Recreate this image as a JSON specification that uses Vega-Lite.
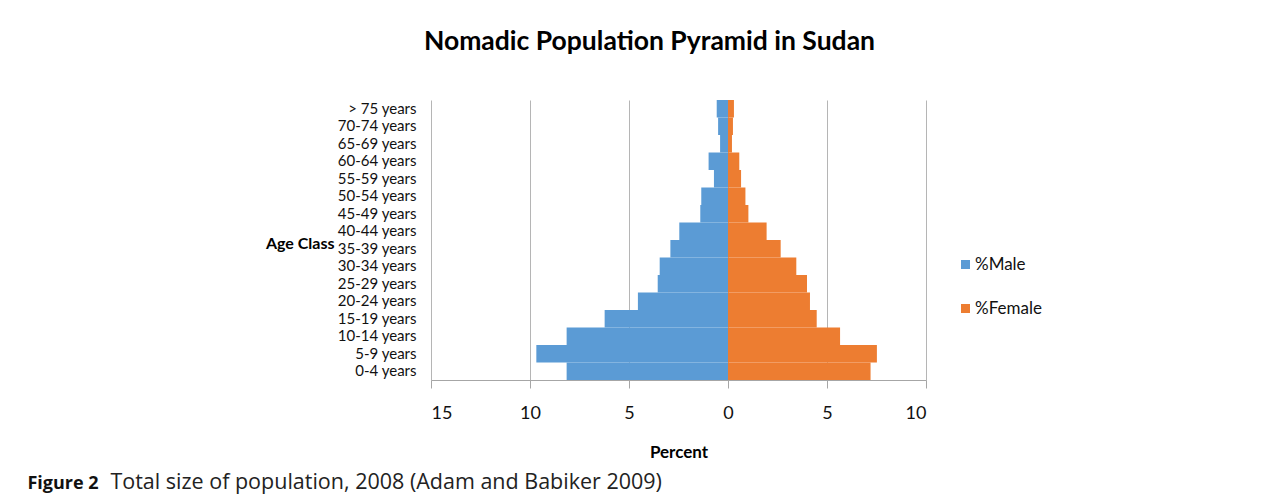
{
  "$schema": "https://vega.github.io/schema/vega-lite/v6.json",
  "autosize": "pad",
  "padding": {"left": 27, "top": 28, "right": 5, "bottom": 5},
  "config": {"view": {"stroke": null}},
  "title": {"text": "Figure 2", "orient": "bottom", "anchor": "start", "frame": "bounds", "font": "Open Sans", "fontSize": 18, "fontWeight": "bold", "color": "#111", "dx": -83, "dy": -27, "offset": 8},
  "vconcat": [
    {
      "title": {"text": "Total size of population, 2008 (Adam and Babiker 2009)", "orient": "bottom", "anchor": "start", "frame": "bounds", "font": "Open Sans", "fontSize": 21.5, "fontWeight": "normal", "color": "#222", "dx": -155, "offset": 12},
      "vconcat": [
        {
          "width": 495,
          "height": 280,
          "title": {"text": "Nomadic Population Pyramid in Sudan", "font": "Lato", "fontSize": 26.5, "fontWeight": "bold", "color": "#000", "anchor": "middle", "frame": "group", "dx": -29, "offset": 45},
          "data": {"values": [
            {"age": "0-4 years", "sex": "%Male", "percent": -8.15},
            {"age": "5-9 years", "sex": "%Male", "percent": -9.68},
            {"age": "10-14 years", "sex": "%Male", "percent": -8.15},
            {"age": "15-19 years", "sex": "%Male", "percent": -6.23},
            {"age": "20-24 years", "sex": "%Male", "percent": -4.55},
            {"age": "25-29 years", "sex": "%Male", "percent": -3.55},
            {"age": "30-34 years", "sex": "%Male", "percent": -3.45},
            {"age": "35-39 years", "sex": "%Male", "percent": -2.91},
            {"age": "40-44 years", "sex": "%Male", "percent": -2.46},
            {"age": "45-49 years", "sex": "%Male", "percent": -1.4},
            {"age": "50-54 years", "sex": "%Male", "percent": -1.35},
            {"age": "55-59 years", "sex": "%Male", "percent": -0.71},
            {"age": "60-64 years", "sex": "%Male", "percent": -0.98},
            {"age": "65-69 years", "sex": "%Male", "percent": -0.4},
            {"age": "70-74 years", "sex": "%Male", "percent": -0.5},
            {"age": "> 75 years", "sex": "%Male", "percent": -0.57},
            {"age": "0-4 years", "sex": "%Female", "percent": 7.2},
            {"age": "5-9 years", "sex": "%Female", "percent": 7.52},
            {"age": "10-14 years", "sex": "%Female", "percent": 5.66},
            {"age": "15-19 years", "sex": "%Female", "percent": 4.48},
            {"age": "20-24 years", "sex": "%Female", "percent": 4.14},
            {"age": "25-29 years", "sex": "%Female", "percent": 3.99},
            {"age": "30-34 years", "sex": "%Female", "percent": 3.45},
            {"age": "35-39 years", "sex": "%Female", "percent": 2.66},
            {"age": "40-44 years", "sex": "%Female", "percent": 1.95},
            {"age": "45-49 years", "sex": "%Female", "percent": 1.03},
            {"age": "50-54 years", "sex": "%Female", "percent": 0.88},
            {"age": "55-59 years", "sex": "%Female", "percent": 0.66},
            {"age": "60-64 years", "sex": "%Female", "percent": 0.57},
            {"age": "65-69 years", "sex": "%Female", "percent": 0.2},
            {"age": "70-74 years", "sex": "%Female", "percent": 0.25},
            {"age": "> 75 years", "sex": "%Female", "percent": 0.3}
          ]},
          "mark": {"type": "bar"},
          "encoding": {
            "y": {
              "field": "age", "type": "nominal",
              "sort": ["> 75 years", "70-74 years", "65-69 years", "60-64 years", "55-59 years", "50-54 years", "45-49 years", "40-44 years", "35-39 years", "30-34 years", "25-29 years", "20-24 years", "15-19 years", "10-14 years", "5-9 years", "0-4 years"],
              "scale": {"paddingInner": 0, "paddingOuter": 0},
              "axis": {"title": "Age Class", "titleAngle": 0, "titleAlign": "right", "titleBaseline": "middle", "titleX": -97, "titleY": 143, "titleFont": "Lato", "titleFontSize": 16, "titleFontWeight": "bold", "titleColor": "#000", "labelFont": "Lato", "labelFontSize": 15, "labelColor": "#111", "labelPadding": 15, "ticks": false, "domain": false, "labelOverlap": false, "labelBound": false}
            },
            "x": {
              "field": "percent", "type": "quantitative",
              "scale": {"domain": [-15, 10], "nice": false, "zero": false},
              "axis": {"values": [-15, -10, -5, 0, 5, 10], "labelExpr": "abs(datum.value)", "grid": true, "gridColor": "#b5b5b5", "domainColor": "#a6a6a6", "tickColor": "#a6a6a6", "tickSize": 8, "labelFont": "Lato", "labelFontSize": 18, "labelColor": "#111", "labelPadding": 16, "title": "Percent", "titleFont": "Lato", "titleFontSize": 17, "titleFontWeight": "bold", "titleColor": "#000", "titlePadding": 22}
            },
            "color": {
              "field": "sex", "type": "nominal",
              "scale": {"domain": ["%Male", "%Female"], "range": ["#5b9bd5", "#ed7d31"]},
              "legend": {"title": null, "orient": "none", "legendX": 526, "legendY": 156, "symbolType": "square", "symbolSize": 81, "symbolStrokeWidth": 0, "labelFont": "Lato", "labelFontSize": 17, "labelColor": "#111", "rowPadding": 26, "labelOffset": 1, "padding": 0}
            }
          }
        }
      ]
    }
  ]
}
